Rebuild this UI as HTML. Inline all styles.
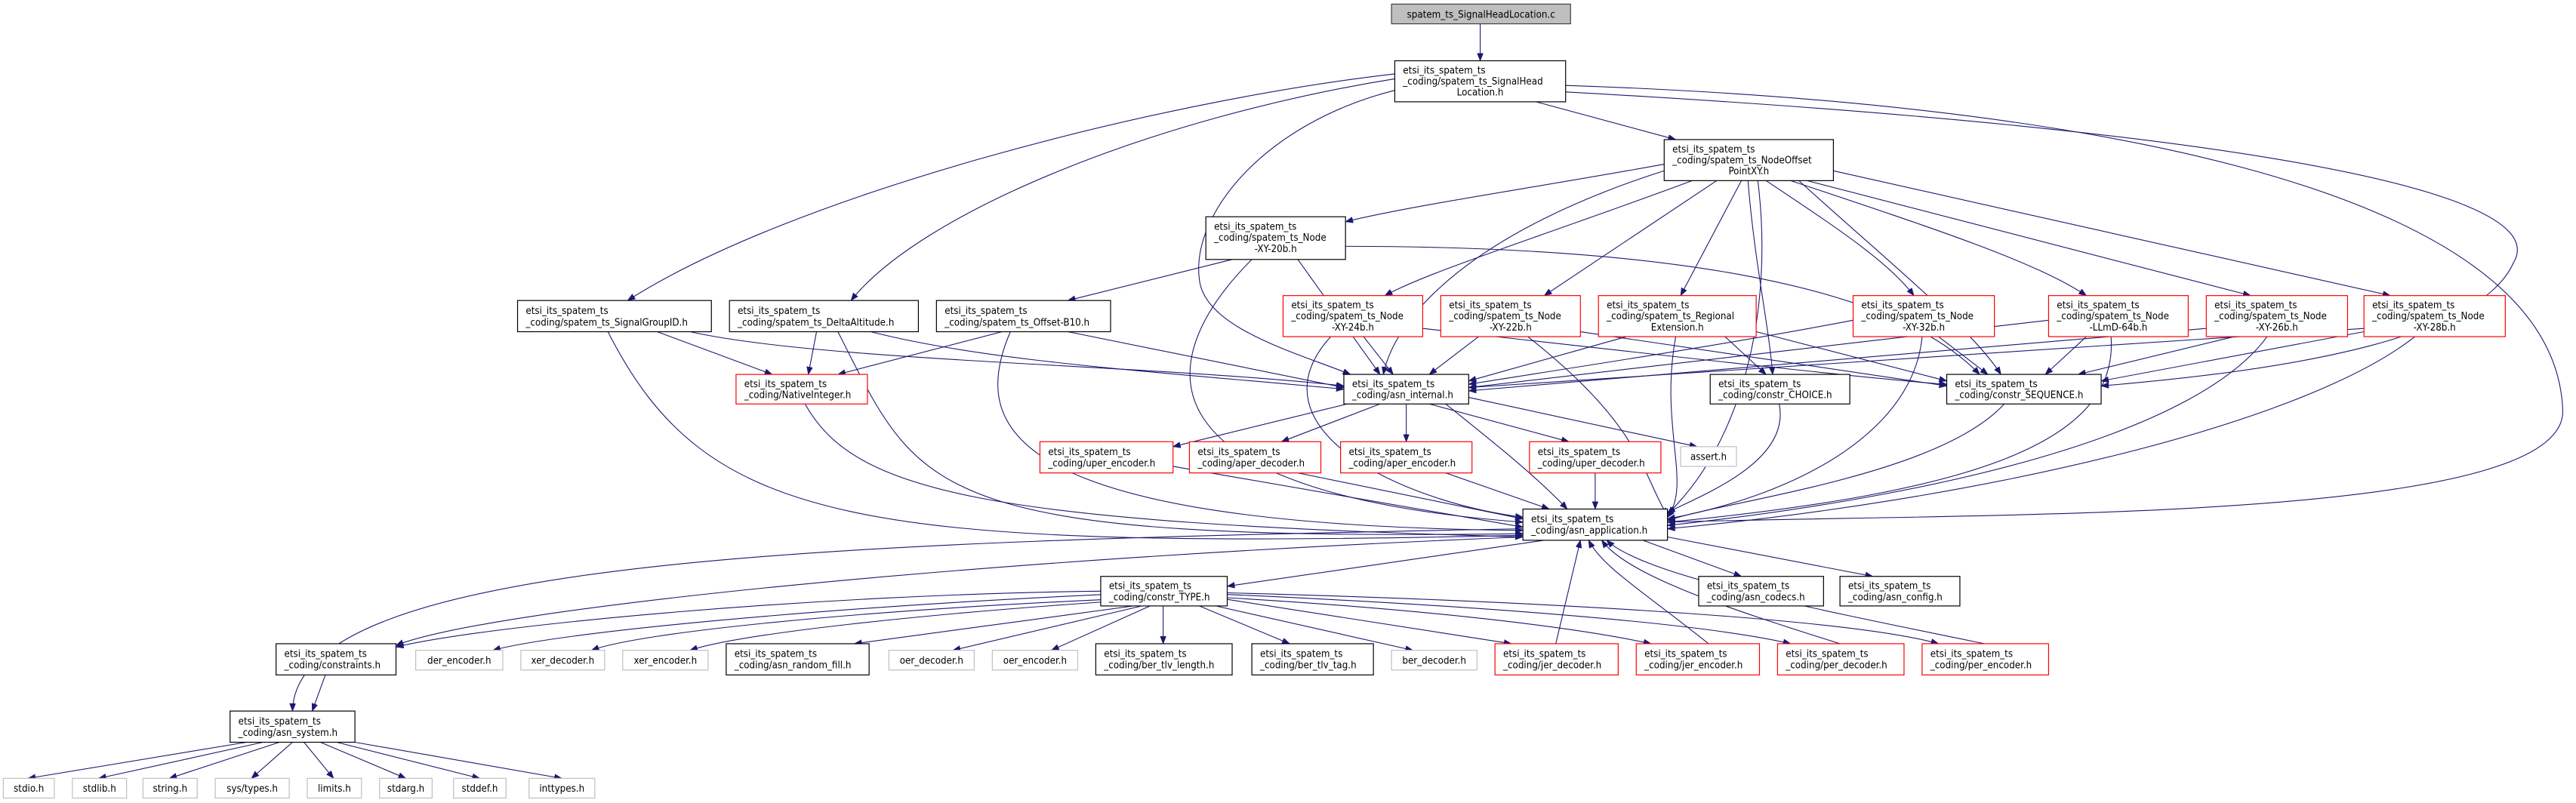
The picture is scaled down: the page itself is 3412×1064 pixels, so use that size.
<!DOCTYPE html>
<html><head><meta charset="utf-8"><style>
html,body{margin:0;padding:0;background:#fff;}
svg{display:block;}
text{font-family:"DejaVu Sans Condensed","DejaVu Sans","Liberation Sans",sans-serif;font-size:6.1px;fill:#000;}
.b{fill:#fff;stroke:#000;stroke-width:0.55;}
.r{fill:#fff;stroke:#ff0000;stroke-width:0.55;}
.g{fill:#fff;stroke:#bfbfbf;stroke-width:0.55;}
.e{fill:none;stroke:#191970;stroke-width:0.5;marker-end:url(#a);}
</style></head><body>
<svg width="3412" height="1064" viewBox="0 0 1568 489" xmlns="http://www.w3.org/2000/svg">
<defs><marker id="a" markerUnits="userSpaceOnUse" markerWidth="5" markerHeight="4" refX="4.6" refY="1.8" orient="auto"><path d="M0,0 L4.6,1.8 L0,3.6 z" fill="#191970" stroke="#191970" stroke-width="0.3"/></marker></defs>

<!-- edges -->
<path class="e" d="M901,14.5 L901,37"/>
<path class="e" d="M935,62 L1020,85"/>
<path class="e" d="M849,45 C700,62 480,120 382,183"/>
<path class="e" d="M849,48 C700,72 560,130 518,183"/>
<path class="e" d="M849,55 C770,75 725,130 730,170 C733,200 790,215 822,228"/>
<path class="e" d="M953,56 C1300,75 1560,110 1530,160 C1510,205 1400,225 1279,235"/>
<path class="e" d="M953,52 C1250,62 1555,110 1560,250 C1562,320 1200,312 1015,318"/>

<path class="e" d="M1013,100 C930,115 860,125 819,135"/>
<path class="e" d="M1013,104 C900,140 850,190 842,228"/>
<path class="e" d="M1030,110 C950,140 870,165 843,180"/>
<path class="e" d="M1045,110 L940,180"/>
<path class="e" d="M1060,110 L1023,180"/>
<path class="e" d="M1064,110 C1068,160 1077,200 1079,228"/>
<path class="e" d="M1070,110 C1080,190 1060,270 1015,313"/>
<path class="e" d="M1075,110 C1120,140 1150,160 1165,180"/>
<path class="e" d="M1090,110 C1180,140 1240,160 1270,180"/>
<path class="e" d="M1100,110 L1370,180"/>
<path class="e" d="M1116,104 L1455,180"/>
<path class="e" d="M1095,110 C1150,160 1200,200 1218,228"/>

<path class="e" d="M750,158 L650,183"/>
<path class="e" d="M790,158 L840,228"/>
<path class="e" d="M819,150 C1000,150 1150,170 1205,228"/>
<path class="e" d="M762,158 C700,220 690,300 927,318"/>

<path class="e" d="M400,202 L470,228"/>
<path class="e" d="M420,202 C500,220 700,222 818,235"/>
<path class="e" d="M370,202 C430,320 520,335 927,326"/>
<path class="e" d="M497,202 L492,228"/>
<path class="e" d="M530,202 C600,220 700,226 818,237"/>
<path class="e" d="M510,202 C560,300 560,330 927,325"/>
<path class="e" d="M610,202 L510,228"/>
<path class="e" d="M650,202 L818,236"/>
<path class="e" d="M615,202 C590,260 610,320 927,323"/>

<path class="e" d="M830,205 L848,228"/>
<path class="e" d="M866,200 C1000,215 1150,232 1185,234"/>
<path class="e" d="M810,205 C760,260 850,305 927,315"/>
<path class="e" d="M900,205 L870,228"/>
<path class="e" d="M962,202 L1185,235"/>
<path class="e" d="M930,205 C1000,260 1000,290 1015,314"/>
<path class="e" d="M990,205 L894,232"/>
<path class="e" d="M1050,205 L1075,228"/>
<path class="e" d="M1069,202 L1185,232"/>
<path class="e" d="M1020,205 C1010,260 1030,295 1015,315"/>
<path class="e" d="M1128,195 C1050,210 950,225 894,234"/>
<path class="e" d="M1180,205 L1210,228"/>
<path class="e" d="M1170,205 C1165,260 1100,300 1015,316"/>
<path class="e" d="M1247,195 L894,236"/>
<path class="e" d="M1270,205 L1245,228"/>
<path class="e" d="M1285,205 C1290,270 1200,300 1015,318"/>
<path class="e" d="M1343,200 L894,238"/>
<path class="e" d="M1360,205 L1265,228"/>
<path class="e" d="M1380,205 C1340,260 1200,300 1015,320"/>
<path class="e" d="M1439,200 C1200,215 1000,230 894,236"/>
<path class="e" d="M1439,202 L1279,232"/>
<path class="e" d="M1470,205 C1400,260 1200,305 1015,322"/>

<path class="e" d="M490,246 C520,300 600,318 927,327"/>
<path class="e" d="M820,246 L714,272"/>
<path class="e" d="M840,246 L780,269"/>
<path class="e" d="M856,246 L856,269"/>
<path class="e" d="M870,246 L955,269"/>
<path class="e" d="M894,242 L1033,272"/>
<path class="e" d="M880,246 C910,270 935,290 954,310"/>
<path class="e" d="M714,284 L927,321"/>
<path class="e" d="M790,288 L927,316"/>
<path class="e" d="M880,288 L943,310"/>
<path class="e" d="M971,288 L971,310"/>
<path class="e" d="M1083,246 C1090,280 1040,300 1015,312"/>
<path class="e" d="M1220,246 C1180,290 1050,305 1015,317"/>

<path class="e" d="M940,329 L747,357"/>
<path class="e" d="M1000,329 L1060,351"/>
<path class="e" d="M1015,327 L1140,351"/>
<path class="e" d="M927,327 C600,340 300,370 241,393"/>
<path class="e" d="M927,322 C500,330 180,340 178,433"/>
<path class="e" d="M947,392 L962,329"/>
<path class="e" d="M1040,392 C1000,360 975,345 967,329"/>
<path class="e" d="M1120,392 C1050,370 990,350 975,329"/>
<path class="e" d="M1208,392 C1100,370 1000,350 978,329"/>

<path class="e" d="M670,360 C500,362 300,380 241,394"/>
<path class="e" d="M672,362 C500,370 340,385 300,396"/>
<path class="e" d="M675,365 C520,372 390,385 360,396"/>
<path class="e" d="M680,366 C560,374 450,386 420,396"/>
<path class="e" d="M690,369 L520,392"/>
<path class="e" d="M695,369 L580,396"/>
<path class="e" d="M700,369 L640,396"/>
<path class="e" d="M708,369 L708,392"/>
<path class="e" d="M730,369 L785,392"/>
<path class="e" d="M740,369 L860,396"/>
<path class="e" d="M747,365 L920,392"/>
<path class="e" d="M747,364 C850,370 950,380 1005,392"/>
<path class="e" d="M747,362 C880,368 1030,378 1090,392"/>
<path class="e" d="M747,361 C900,365 1120,375 1180,392"/>
<path class="e" d="M198,411 L190,433"/>
<path class="e" d="M150,452 L17,474"/>
<path class="e" d="M160,452 L60,474"/>
<path class="e" d="M170,452 L103,474"/>
<path class="e" d="M178,452 L153,474"/>
<path class="e" d="M185,452 L203,474"/>
<path class="e" d="M195,452 L247,474"/>
<path class="e" d="M205,452 L292,474"/>
<path class="e" d="M216,452 L342,474"/>

<!-- nodes -->
<rect x="847" y="2.5" width="109" height="12" fill="#bfbfbf" stroke="#404040" stroke-width="0.55"/>
<text x="901.5" y="10.7" text-anchor="middle">spatem_ts_SignalHeadLocation.c</text>

<rect class="b" x="849" y="37" width="104" height="25"/>
<text x="854" y="44.8">etsi_its_spatem_ts</text><text x="854" y="51.5">_coding/spatem_ts_SignalHead</text><text x="901" y="58.2" text-anchor="middle">Location.h</text>

<rect class="b" x="1013" y="85" width="103" height="25"/>
<text x="1018" y="92.8">etsi_its_spatem_ts</text><text x="1018" y="99.5">_coding/spatem_ts_NodeOffset</text><text x="1064.5" y="106.2" text-anchor="middle">PointXY.h</text>

<rect class="b" x="734" y="132" width="85" height="26"/>
<text x="739" y="140">etsi_its_spatem_ts</text><text x="739" y="146.7">_coding/spatem_ts_Node</text><text x="776.5" y="153.4" text-anchor="middle">-XY-20b.h</text>

<rect class="b" x="315" y="183" width="118" height="19"/>
<text x="320" y="191.3">etsi_its_spatem_ts</text><text x="320" y="198.2">_coding/spatem_ts_SignalGroupID.h</text>
<rect class="b" x="444" y="183" width="115" height="19"/>
<text x="449" y="191.3">etsi_its_spatem_ts</text><text x="449" y="198.2">_coding/spatem_ts_DeltaAltitude.h</text>
<rect class="b" x="570" y="183" width="106" height="19"/>
<text x="575" y="191.3">etsi_its_spatem_ts</text><text x="575" y="198.2">_coding/spatem_ts_Offset-B10.h</text>

<rect class="r" x="781" y="180" width="85" height="25"/>
<text x="786" y="187.8">etsi_its_spatem_ts</text><text x="786" y="194.5">_coding/spatem_ts_Node</text><text x="823.5" y="201.2" text-anchor="middle">-XY-24b.h</text>
<rect class="r" x="877" y="180" width="85" height="25"/>
<text x="882" y="187.8">etsi_its_spatem_ts</text><text x="882" y="194.5">_coding/spatem_ts_Node</text><text x="919.5" y="201.2" text-anchor="middle">-XY-22b.h</text>
<rect class="r" x="973" y="180" width="96" height="25"/>
<text x="978" y="187.8">etsi_its_spatem_ts</text><text x="978" y="194.5">_coding/spatem_ts_Regional</text><text x="1021" y="201.2" text-anchor="middle">Extension.h</text>
<rect class="r" x="1128" y="180" width="86" height="25"/>
<text x="1133" y="187.8">etsi_its_spatem_ts</text><text x="1133" y="194.5">_coding/spatem_ts_Node</text><text x="1171" y="201.2" text-anchor="middle">-XY-32b.h</text>
<rect class="r" x="1247" y="180" width="85" height="25"/>
<text x="1252" y="187.8">etsi_its_spatem_ts</text><text x="1252" y="194.5">_coding/spatem_ts_Node</text><text x="1289.5" y="201.2" text-anchor="middle">-LLmD-64b.h</text>
<rect class="r" x="1343" y="180" width="86" height="25"/>
<text x="1348" y="187.8">etsi_its_spatem_ts</text><text x="1348" y="194.5">_coding/spatem_ts_Node</text><text x="1386" y="201.2" text-anchor="middle">-XY-26b.h</text>
<rect class="r" x="1439" y="180" width="86" height="25"/>
<text x="1444" y="187.8">etsi_its_spatem_ts</text><text x="1444" y="194.5">_coding/spatem_ts_Node</text><text x="1482" y="201.2" text-anchor="middle">-XY-28b.h</text>

<rect class="r" x="448" y="228" width="80" height="18"/>
<text x="453" y="235.8">etsi_its_spatem_ts</text><text x="453" y="242.5">_coding/NativeInteger.h</text>
<rect class="b" x="818" y="228" width="76" height="18"/>
<text x="823" y="235.8">etsi_its_spatem_ts</text><text x="823" y="242.5">_coding/asn_internal.h</text>
<rect class="b" x="1041" y="228" width="85" height="18"/>
<text x="1046" y="235.8">etsi_its_spatem_ts</text><text x="1046" y="242.5">_coding/constr_CHOICE.h</text>
<rect class="b" x="1185" y="228" width="94" height="18"/>
<text x="1190" y="235.8">etsi_its_spatem_ts</text><text x="1190" y="242.5">_coding/constr_SEQUENCE.h</text>

<rect class="r" x="633" y="269" width="81" height="19"/>
<text x="638" y="277.1">etsi_its_spatem_ts</text><text x="638" y="284">_coding/uper_encoder.h</text>
<rect class="r" x="724" y="269" width="80" height="19"/>
<text x="729" y="277.1">etsi_its_spatem_ts</text><text x="729" y="284">_coding/aper_decoder.h</text>
<rect class="r" x="816" y="269" width="80" height="19"/>
<text x="821" y="277.1">etsi_its_spatem_ts</text><text x="821" y="284">_coding/aper_encoder.h</text>
<rect class="r" x="931" y="269" width="80" height="19"/>
<text x="936" y="277.1">etsi_its_spatem_ts</text><text x="936" y="284">_coding/uper_decoder.h</text>
<rect class="g" x="1023" y="272" width="34" height="12"/>
<text x="1040" y="280.2" text-anchor="middle">assert.h</text>

<rect class="b" x="927" y="310" width="88" height="19" stroke-width="0.7"/>
<text x="932" y="318.1">etsi_its_spatem_ts</text><text x="932" y="325">_coding/asn_application.h</text>

<rect class="b" x="670" y="351" width="77" height="18"/>
<text x="675" y="358.8">etsi_its_spatem_ts</text><text x="675" y="365.5">_coding/constr_TYPE.h</text>
<rect class="b" x="1034" y="351" width="76" height="18"/>
<text x="1039" y="358.8">etsi_its_spatem_ts</text><text x="1039" y="365.5">_coding/asn_codecs.h</text>
<rect class="b" x="1120" y="351" width="73" height="18"/>
<text x="1125" y="358.8">etsi_its_spatem_ts</text><text x="1125" y="365.5">_coding/asn_config.h</text>

<rect class="b" x="168" y="392" width="73" height="19"/>
<text x="173" y="400.1">etsi_its_spatem_ts</text><text x="173" y="407">_coding/constraints.h</text>
<rect class="g" x="253" y="396" width="53" height="12"/><text x="279.5" y="404.2" text-anchor="middle">der_encoder.h</text>
<rect class="g" x="317" y="396" width="51" height="12"/><text x="342.5" y="404.2" text-anchor="middle">xer_decoder.h</text>
<rect class="g" x="379" y="396" width="52" height="12"/><text x="405" y="404.2" text-anchor="middle">xer_encoder.h</text>
<rect class="b" x="442" y="392" width="87" height="19"/>
<text x="447" y="400.1">etsi_its_spatem_ts</text><text x="447" y="407">_coding/asn_random_fill.h</text>
<rect class="g" x="541" y="396" width="52" height="12"/><text x="567" y="404.2" text-anchor="middle">oer_decoder.h</text>
<rect class="g" x="604" y="396" width="52" height="12"/><text x="630" y="404.2" text-anchor="middle">oer_encoder.h</text>
<rect class="b" x="667" y="392" width="83" height="19"/>
<text x="672" y="400.1">etsi_its_spatem_ts</text><text x="672" y="407">_coding/ber_tlv_length.h</text>
<rect class="b" x="762" y="392" width="74" height="19"/>
<text x="767" y="400.1">etsi_its_spatem_ts</text><text x="767" y="407">_coding/ber_tlv_tag.h</text>
<rect class="g" x="847" y="396" width="52" height="12"/><text x="873" y="404.2" text-anchor="middle">ber_decoder.h</text>
<rect class="r" x="910" y="392" width="75" height="19"/>
<text x="915" y="400.1">etsi_its_spatem_ts</text><text x="915" y="407">_coding/jer_decoder.h</text>
<rect class="r" x="996" y="392" width="75" height="19"/>
<text x="1001" y="400.1">etsi_its_spatem_ts</text><text x="1001" y="407">_coding/jer_encoder.h</text>
<rect class="r" x="1082" y="392" width="77" height="19"/>
<text x="1087" y="400.1">etsi_its_spatem_ts</text><text x="1087" y="407">_coding/per_decoder.h</text>
<rect class="r" x="1170" y="392" width="77" height="19"/>
<text x="1175" y="400.1">etsi_its_spatem_ts</text><text x="1175" y="407">_coding/per_encoder.h</text>

<rect class="b" x="140" y="433" width="76" height="19"/>
<text x="145" y="441.1">etsi_its_spatem_ts</text><text x="145" y="448">_coding/asn_system.h</text>

<rect class="g" x="2" y="474" width="31" height="12"/><text x="17.5" y="482.2" text-anchor="middle">stdio.h</text>
<rect class="g" x="44" y="474" width="33" height="12"/><text x="60.5" y="482.2" text-anchor="middle">stdlib.h</text>
<rect class="g" x="87" y="474" width="33" height="12"/><text x="103.5" y="482.2" text-anchor="middle">string.h</text>
<rect class="g" x="131" y="474" width="45" height="12"/><text x="153.5" y="482.2" text-anchor="middle">sys/types.h</text>
<rect class="g" x="187" y="474" width="33" height="12"/><text x="203.5" y="482.2" text-anchor="middle">limits.h</text>
<rect class="g" x="231" y="474" width="32" height="12"/><text x="247" y="482.2" text-anchor="middle">stdarg.h</text>
<rect class="g" x="276" y="474" width="32" height="12"/><text x="292" y="482.2" text-anchor="middle">stddef.h</text>
<rect class="g" x="322" y="474" width="40" height="12"/><text x="342" y="482.2" text-anchor="middle">inttypes.h</text>
</svg>
</body></html>
